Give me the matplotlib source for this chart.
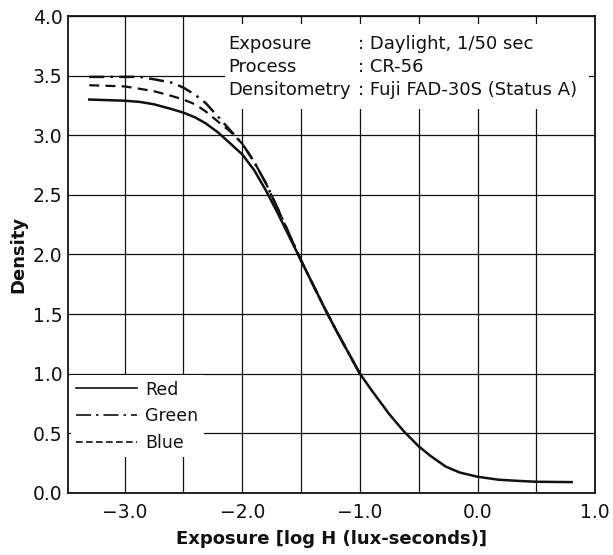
import numpy as np
import matplotlib
matplotlib.use('Agg')
import matplotlib.pyplot as plt
from matplotlib.lines import Line2D
from matplotlib.patches import Rectangle

plt.rcParams['font.family'] = ['DejaVu Sans']

# ============== data ==============
red_x = [-3.3, -3.0, -2.87, -2.75, -2.6, -2.5, -2.4, -2.31, -2.2, -2.1, -2.0,
         -1.9, -1.8, -1.7, -1.6, -1.5, -1.4, -1.3, -1.2, -1.1, -1.0, -0.9,
         -0.84, -0.75, -0.63, -0.5, -0.4, -0.27, -0.15, 0.0, 0.18, 0.35, 0.5, 0.8]
red_y = [3.30, 3.29, 3.28, 3.26, 3.22, 3.19, 3.15, 3.10, 3.02, 2.93, 2.84,
         2.71, 2.54, 2.35, 2.15, 1.95, 1.75, 1.55, 1.36, 1.18, 1.00, 0.86,
         0.78, 0.66, 0.52, 0.39, 0.31, 0.22, 0.17, 0.135, 0.11, 0.10, 0.093, 0.09]

green_x = [-3.3, -3.0, -2.87, -2.75, -2.59, -2.5, -2.4, -2.31, -2.2, -2.1, -2.0,
           -1.9, -1.8, -1.7, -1.6, -1.5, -1.4, -1.3, -1.2, -1.1, -1.0]
green_y = [3.49, 3.49, 3.49, 3.47, 3.44, 3.40, 3.34, 3.27, 3.15, 3.04, 2.93,
           2.78, 2.60, 2.39, 2.17, 1.95, 1.75, 1.55, 1.36, 1.18, 1.00]

blue_x = [-3.3, -3.0, -2.87, -2.75, -2.6, -2.5, -2.4, -2.31, -2.2, -2.1, -2.0,
          -1.9, -1.8, -1.7, -1.6, -1.5, -1.4, -1.3, -1.2, -1.1, -1.0]
blue_y = [3.42, 3.41, 3.39, 3.37, 3.33, 3.30, 3.26, 3.20, 3.11, 3.03, 2.93,
          2.78, 2.60, 2.39, 2.17, 1.95, 1.75, 1.55, 1.36, 1.18, 1.00]

series_names = ['Red', 'Green', 'Blue']

x_ticks = [-3.0, -2.5, -2.0, -1.5, -1.0, -0.5, 0.0, 0.5, 1.0]
x_ticklabels = ['\u22123.0', '', '\u22122.0', '', '\u22121.0', '', '0.0', '', '1.0']
y_ticks = [0.0, 0.5, 1.0, 1.5, 2.0, 2.5, 3.0, 3.5, 4.0]

info_keys = ['Exposure', 'Process', 'Densitometry']
info_vals = [': Daylight, 1/50 sec', ': CR-56', ': Fuji FAD-30S (Status A)']

# ============== plot ==============
fig = plt.figure(figsize=(6.13, 5.55), dpi=100)
ax = fig.add_axes([0.111, 0.112, 0.860, 0.859])

ax.set_xlim(-3.48, 1.0)
ax.set_ylim(0, 4.0)
ax.set_xticks(x_ticks)
ax.set_xticklabels(x_ticklabels)
ax.set_yticks(y_ticks)
ax.set_yticklabels([f'{v:.1f}' for v in y_ticks])
ax.tick_params(length=0, labelsize=13.5, colors='#111')
ax.tick_params(axis='x', pad=7)
ax.tick_params(axis='y', pad=4)
ax.grid(True, color='#111', linewidth=0.9)
for s in ax.spines.values():
    s.set_linewidth(1.3)
    s.set_color('#111')

# 白底信息框（挡住网格）
ax.add_patch(Rectangle((-2.15, 3.22), 3.10, 0.71, facecolor='white',
                       edgecolor='none', zorder=1.8))

ax.plot(red_x, red_y, color='#111', lw=1.8, solid_joinstyle='round', zorder=2)
ax.plot(green_x, green_y, color='#111', lw=1.8, dashes=(6, 2.5, 1, 2.5), zorder=2)
ax.plot(blue_x, blue_y, color='#111', lw=1.6, dashes=(4.5, 2.8), zorder=2)

rows_y = [3.77, 3.57, 3.38]
for k, v, yy in zip(info_keys, info_vals, rows_y):
    ax.text(-2.12, yy, k, fontsize=13, va='center', ha='left', color='#111', zorder=3)
    ax.text(-1.02, yy, v, fontsize=13, va='center', ha='left', color='#111', zorder=3)

handles = [Line2D([], [], color='#111', lw=1.2),
           Line2D([], [], color='#111', lw=1.2, dashes=(9, 3, 1.5, 3)),
           Line2D([], [], color='#111', lw=1.2, dashes=(4, 2))]
leg = ax.legend(handles, series_names, loc='lower left', bbox_to_anchor=(0.005, 0.075),
                fontsize=12.5, frameon=True, facecolor='white', edgecolor='none',
                framealpha=1, fancybox=False, handlelength=3.5, handletextpad=0.5,
                labelspacing=0.5, borderpad=0.3, borderaxespad=0)
for t in leg.get_texts():
    t.set_color('#111')

ax.set_xlabel('Exposure [log H (lux-seconds)]', fontsize=13, fontweight='bold',
              labelpad=6, color='#111')
ax.set_ylabel('Density', fontsize=13, fontweight='bold', labelpad=4, color='#111')

fig.savefig('out.png', dpi=100)
plt.close(fig)
